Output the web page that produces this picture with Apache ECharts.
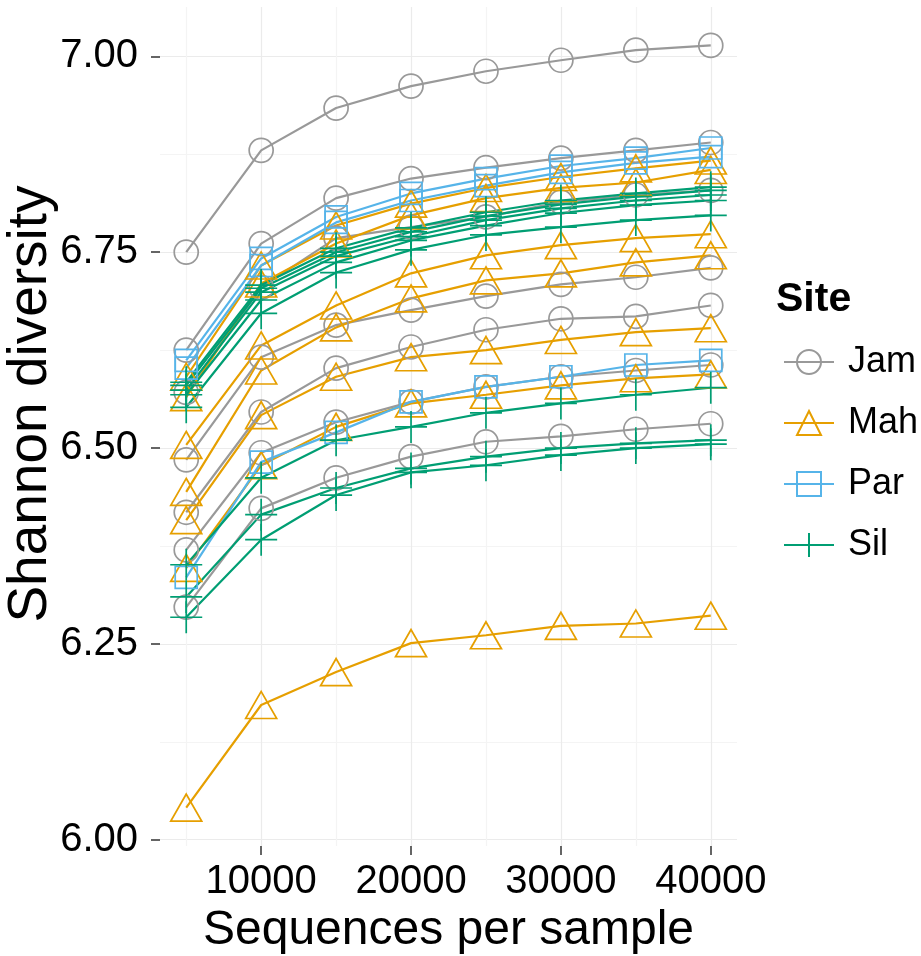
<!DOCTYPE html>
<html>
<head>
<meta charset="utf-8">
<script src="https://cdn.jsdelivr.net/npm/echarts@6/dist/echarts.min.js"></script>
<style>
html, body { margin: 0; padding: 0; background: #fff; }
#chart { width: 921px; height: 956px; }
</style>
</head>
<body>
<div id="chart"></div>
<script>
var myChart = echarts.init(document.getElementById('chart'));

// sequencing depth (x)
var depth = [5000, 10000, 15000, 20000, 25000, 30000, 35000, 40000];
var xTicks = [10000, 20000, 30000, 40000];
var xMinor = [5000, 15000, 25000, 35000];
var yTicks = [6.00, 6.25, 6.50, 6.75, 7.00];
var yMinor = [6.125, 6.375, 6.625, 6.875];
var sites = ['Jam', 'Mah', 'Par', 'Sil'];

// Shannon diversity per sample, one row per curve
var jam = [
    [6.750, 6.880, 6.934, 6.962, 6.981, 6.995, 7.008, 7.014],
    [6.625, 6.761, 6.819, 6.844, 6.858, 6.870, 6.880, 6.890],
    [6.571, 6.705, 6.768, 6.782, 6.795, 6.814, 6.823, 6.829],
    [6.485, 6.616, 6.657, 6.676, 6.694, 6.709, 6.718, 6.730],
    [6.418, 6.546, 6.602, 6.629, 6.651, 6.665, 6.668, 6.682],
    [6.370, 6.494, 6.533, 6.559, 6.578, 6.591, 6.599, 6.606],
    [6.297, 6.423, 6.462, 6.489, 6.508, 6.515, 6.524, 6.531]
];
var mah = [
    [6.591, 6.733, 6.784, 6.812, 6.832, 6.846, 6.857, 6.867],
    [6.565, 6.710, 6.761, 6.797, 6.819, 6.832, 6.839, 6.855],
    [6.504, 6.631, 6.682, 6.723, 6.746, 6.759, 6.768, 6.773],
    [6.444, 6.599, 6.654, 6.691, 6.714, 6.723, 6.737, 6.746],
    [6.408, 6.542, 6.591, 6.616, 6.625, 6.638, 6.648, 6.653],
    [6.347, 6.478, 6.527, 6.557, 6.568, 6.580, 6.589, 6.594],
    [6.041, 6.172, 6.214, 6.251, 6.261, 6.273, 6.276, 6.286]
];
var par = [
    [6.612, 6.742, 6.795, 6.825, 6.844, 6.860, 6.870, 6.883],
    [6.602, 6.733, 6.788, 6.816, 6.835, 6.852, 6.864, 6.872],
    [6.335, 6.482, 6.520, 6.559, 6.578, 6.591, 6.606, 6.612]
];
var sil = [
    [6.584, 6.708, 6.755, 6.781, 6.801, 6.816, 6.825, 6.833],
    [6.580, 6.704, 6.750, 6.776, 6.796, 6.811, 6.821, 6.829],
    [6.574, 6.699, 6.745, 6.770, 6.791, 6.806, 6.816, 6.823],
    [6.568, 6.689, 6.737, 6.765, 6.784, 6.800, 6.810, 6.816],
    [6.552, 6.672, 6.724, 6.753, 6.772, 6.782, 6.791, 6.797],
    [6.351, 6.462, 6.510, 6.527, 6.545, 6.557, 6.568, 6.577],
    [6.310, 6.415, 6.449, 6.474, 6.489, 6.500, 6.506, 6.510],
    [6.284, 6.383, 6.440, 6.469, 6.478, 6.491, 6.500, 6.505]
];

var siteData = { Jam: jam, Mah: mah, Par: par, Sil: sil };
var siteColor = { Jam: '#999999', Mah: '#E69F00', Par: '#56B4E9', Sil: '#009E73' };
var siteSymbol = {
    Jam: 'circle',
    Mah: 'triangle',
    Par: 'rect',
    Sil: 'path://M0,5L10,5M5,0L5,10'
};
var siteSize = { Jam: 24, Mah: [31, 27], Par: 22, Sil: 32 };

var font = 'Arial, "Liberation Sans", sans-serif';

var series = [];
sites.forEach(function (s) {
    siteData[s].forEach(function (curve) {
        series.push({
            type: 'line',
            name: s,
            data: depth.map(function (d, i) { return [d, curve[i]]; }),
            symbol: siteSymbol[s],
            symbolSize: siteSize[s],
            showAllSymbol: true,
            lineStyle: { color: siteColor[s], width: 2.2 },
            itemStyle: { color: 'rgba(0,0,0,0)', borderColor: siteColor[s], borderWidth: 1.7 },
            emphasis: { disabled: true },
            animation: false
        });
    });
});

var gridLine = function (c) {
    return { show: true, lineStyle: { color: c, width: 1.2 } };
};

var option = {
    backgroundColor: '#fff',
    animation: false,
    title: {
        text: 'Site',
        left: 776,
        top: 279,
        padding: 0,
        textStyle: { fontFamily: font, fontSize: 41, fontWeight: 'bold', color: '#000' }
    },
    graphic: [{
        type: 'text',
        x: 31,
        y: 404,
        rotation: Math.PI / 2,
        style: {
            text: 'Shannon diversity',
            fontFamily: font,
            fontSize: 55,
            fill: '#000',
            align: 'center',
            verticalAlign: 'middle'
        }
    }],
    legend: {
        data: sites,
        orient: 'vertical',
        left: 783,
        top: 344,
        padding: 0,
        itemWidth: 50,
        itemHeight: 30,
        itemGap: 25,
        selectedMode: false,
        textStyle: { fontFamily: font, fontSize: 36, color: '#000', padding: [0, 0, 0, 9] }
    },
    grid: { left: 160, right: 184, top: 7, bottom: 110, containLabel: false, outerBoundsMode: 'none' },
    xAxis: [{
        type: 'value',
        min: 3250,
        max: 41750,
        name: 'Sequences per sample',
        nameLocation: 'middle',
        nameGap: 56,
        nameTextStyle: { fontFamily: font, fontSize: 48, color: '#000' },
        axisLine: { show: false },
        axisTick: { show: true, inside: false, length: 9, customValues: xTicks, lineStyle: { color: '#333', width: 1.5 } },
        axisLabel: {
            customValues: xTicks, margin: 16, fontFamily: font, fontSize: 40, color: '#000',
            formatter: function (v) { return String(v); }
        },
        splitLine: gridLine('#ebebeb')
    }, {
        type: 'value',
        min: 3250,
        max: 41750,
        axisLine: { show: false },
        axisTick: { show: false, customValues: xMinor },
        axisLabel: { show: false, customValues: xMinor },
        splitLine: gridLine('#f4f4f4')
    }],
    yAxis: [{
        type: 'value',
        min: 5.992,
        max: 7.063,
        axisLine: { show: false },
        axisTick: { show: true, inside: false, length: 9, customValues: yTicks, lineStyle: { color: '#333', width: 1.5 } },
        axisLabel: {
            customValues: yTicks, margin: 22, fontFamily: font, fontSize: 40, color: '#000',
            formatter: function (v) { return v.toFixed(2); }
        },
        splitLine: gridLine('#ebebeb')
    }, {
        type: 'value',
        min: 5.992,
        max: 7.063,
        position: 'left',
        axisLine: { show: false },
        axisTick: { show: false, customValues: yMinor },
        axisLabel: { show: false, customValues: yMinor },
        splitLine: gridLine('#f4f4f4')
    }],
    series: series
};
myChart.setOption(option);
</script>
</body>
</html>
